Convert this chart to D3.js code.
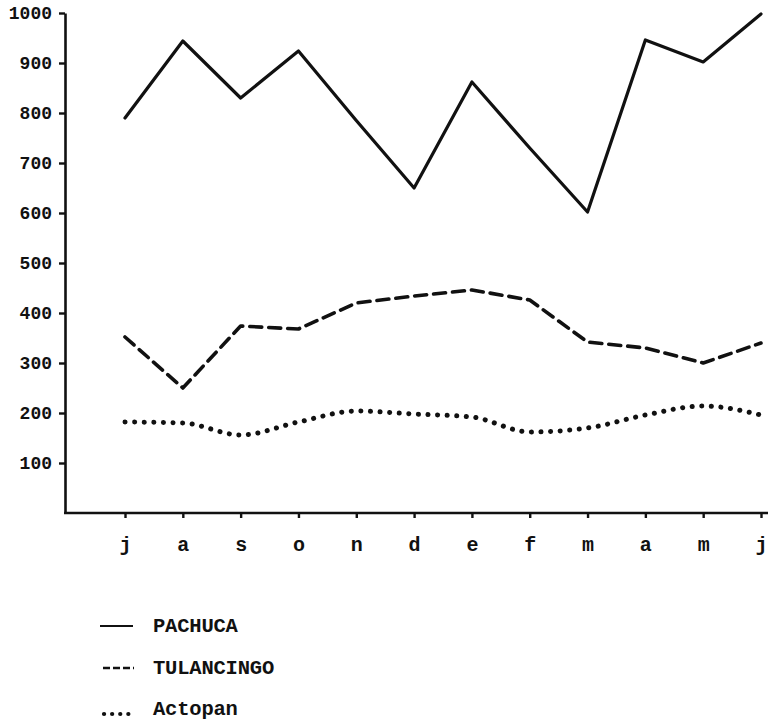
<!DOCTYPE html>
<html>
<head>
<meta charset="utf-8">
<script src="https://cdn.jsdelivr.net/npm/d3@7"></script>
<style>
  html, body { margin: 0; padding: 0; background: #fff; }
  svg { display: block; }
  text { font-family: "Liberation Mono", "DejaVu Sans Mono", monospace; font-weight: bold; fill: #111; }
</style>
</head>
<body>
<div id="chart"></div>
<script>
// months jul..jun
const months = ["j", "a", "s", "o", "n", "d", "e", "f", "m", "a", "m", "j"];
const yTicks = [100, 200, 300, 400, 500, 600, 700, 800, 900, 1000];

const pachuca    = [790, 944, 830, 924, 785, 650, 862, 730, 602, 946, 902, 998];
const tulancingo = [352, 250, 374, 368, 420, 434, 446, 426, 342, 330, 300, 340];
const actopan    = [182, 180, 156, 182, 204, 198, 192, 162, 170, 196, 214, 196];

const seriesNames = ["PACHUCA", "TULANCINGO", "Actopan"];

const width = 768, height = 722;

const svg = d3.select("#chart").append("svg")
    .attr("width", width)
    .attr("height", height);

const x = d3.scalePoint()
    .domain(d3.range(months.length))
    .range([125, 761]);

const y = d3.scaleLinear()
    .domain([0, 1000])
    .range([513, 13]);

// y axis
const yAxis = svg.append("g")
    .attr("transform", "translate(65,0)")
    .call(d3.axisLeft(y).tickValues(yTicks).tickSize(6).tickSizeOuter(0)
        .tickPadding(7).tickFormat(d3.format("d")));
yAxis.select(".domain").attr("stroke", "#111").attr("stroke-width", 2.6);
yAxis.selectAll(".tick line").attr("stroke", "#111").attr("stroke-width", 2.4);
yAxis.selectAll(".tick text")
    .attr("font-family", "'DejaVu Sans Mono', monospace")
    .attr("font-size", 18)
    .attr("fill", "#111");

// x axis baseline (extends beyond the month points)
svg.append("line")
    .attr("x1", 64).attr("x2", width)
    .attr("y1", y(0)).attr("y2", y(0))
    .attr("stroke", "#111").attr("stroke-width", 2.6);

const xAxis = svg.append("g")
    .attr("transform", `translate(0,${y(0)})`)
    .call(d3.axisBottom(x).tickSize(5).tickPadding(19).tickFormat(i => months[i]));
xAxis.select(".domain").remove();
xAxis.selectAll(".tick line").attr("stroke", "#111").attr("stroke-width", 2.4);
xAxis.selectAll(".tick text")
    .attr("font-size", 20)
    .attr("fill", "#111");

// lines
const line = d3.line()
    .x((d, i) => x(i))
    .y(d => y(d));

const styles = [
    { dash: null, width: 3.2, curve: d3.curveLinear },
    { dash: "12 7", width: 3.6, curve: d3.curveLinear },
    { dash: "0.1 9.5", width: 5, curve: d3.curveMonotoneX }
];

[pachuca, tulancingo, actopan].forEach((vals, k) => {
    const s = styles[k];
    svg.append("path")
        .datum(vals)
        .attr("fill", "none")
        .attr("stroke", "#111")
        .attr("stroke-width", s.width)
        .attr("stroke-linecap", "round")
        .attr("stroke-linejoin", "round")
        .attr("stroke-dasharray", s.dash)
        .attr("d", line.curve(s.curve));
});

// legend
const legendY = [632, 674, 715];
const legendStyles = [
    { dash: null, width: 2, x1: 100, x2: 133, dy: -6 },
    { dash: "7 3", width: 2.6, x1: 103, x2: 134, dy: -6 },
    { dash: "0.1 8", width: 4.2, x1: 104, x2: 132, dy: -1 }
];
const legend = svg.append("g");
seriesNames.forEach((name, k) => {
    const s = legendStyles[k];
    legend.append("line")
        .attr("x1", s.x1).attr("x2", s.x2)
        .attr("y1", legendY[k] + s.dy).attr("y2", legendY[k] + s.dy)
        .attr("stroke", "#111")
        .attr("stroke-width", s.width)
        .attr("stroke-linecap", k === 2 ? "round" : "butt")
        .attr("stroke-dasharray", s.dash);
    legend.append("text")
        .attr("x", 153)
        .attr("y", legendY[k])
        .attr("font-size", 20.5)
        .attr("letter-spacing", -0.2)
        .text(name);
});
</script>
</body>
</html>
